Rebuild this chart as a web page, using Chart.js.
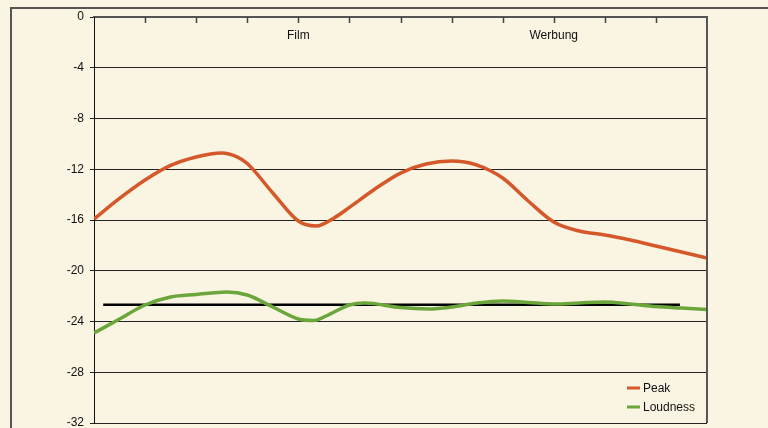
<!DOCTYPE html>
<html>
<head>
<meta charset="utf-8">
<script src="https://cdn.jsdelivr.net/npm/chart.js@4/dist/chart.umd.min.js"></script>
<style>
  html, body { margin: 0; padding: 0; background: #FAF4E3; overflow: hidden; }
  #frame { position: absolute; left: 10px; top: 7px; width: 800px; height: 500px;
           border-left: 2px solid #555; border-top: 2px solid #555; }
  #chart { position: absolute; left: 0; top: 0; }
</style>
</head>
<body>
<div id="frame"></div>
<canvas id="chart" width="768" height="428"></canvas>
<script>
// ---- data (x = position along the top axis, 0..12) ----
const peakX = [0, 0.5, 1, 1.5, 2, 2.5, 2.8, 3, 3.5, 4, 4.35, 4.7, 5, 5.5, 6, 6.5, 7, 7.5, 8, 8.5, 9, 9.5, 10, 10.5, 11, 11.5, 12];
const peakY = [-15.92, -14.30, -12.85, -11.70, -11.03, -10.72, -11.03, -11.55, -13.87, -16.08, -16.47, -15.84, -15.01, -13.56, -12.30, -11.59, -11.35, -11.67, -12.69, -14.50, -16.16, -16.87, -17.18, -17.58, -18.05, -18.52, -19.0];

const loudX = [0, 0.5, 1, 1.5, 2, 2.6, 3, 3.5, 4, 4.3, 4.6, 5, 5.3, 6, 6.55, 7, 7.5, 8, 8.5, 9, 9.5, 10, 10.5, 11, 11.5, 12];
const loudY = [-24.91, -23.80, -22.70, -22.07, -21.87, -21.67, -21.91, -22.86, -23.80, -23.92, -23.45, -22.70, -22.54, -22.90, -23.01, -22.86, -22.54, -22.38, -22.50, -22.62, -22.54, -22.46, -22.62, -22.82, -22.94, -23.05];

const refX = [0.18, 11.47];
const refY = [-22.68, -22.68];

const sectionLabels = ['Film', 'Werbung'];
const sectionPos = [4, 9];

const yTicks = { min: -32, max: 0, step: 4 };

const FONT = '"Liberation Sans", Arial, sans-serif';

function pts(xs, ys) {
  return xs.map((x, i) => ({ x: x, y: ys[i] }));
}

// Tick marks pointing into the plot, section labels, right border, legend
const decor = {
  id: 'decor',
  afterDatasetsDraw(chart) {
    const ctx = chart.ctx;
    const a = chart.chartArea;
    const xs = chart.scales.x;
    ctx.save();
    // right border
    ctx.strokeStyle = '#555';
    ctx.lineWidth = 2;
    ctx.beginPath();
    ctx.moveTo(a.right, a.top);
    ctx.lineTo(a.right, a.bottom);
    ctx.stroke();
    // inward ticks on the top axis
    ctx.lineWidth = 1.5;
    ctx.strokeStyle = '#444';
    for (let i = 1; i < 12; i++) {
      const px = Math.round(xs.getPixelForValue(i)) + 0.5;
      ctx.beginPath();
      ctx.moveTo(px, a.top);
      ctx.lineTo(px, a.top + 6);
      ctx.stroke();
    }
    // section labels
    ctx.fillStyle = '#111';
    ctx.font = '12px ' + FONT;
    ctx.textAlign = 'center';
    ctx.textBaseline = 'middle';
    sectionLabels.forEach((t, i) => {
      ctx.fillText(t, xs.getPixelForValue(sectionPos[i]), a.top + 19);
    });
    // legend
    ctx.textAlign = 'left';
    const items = chart.data.datasets.filter(d => d.label);
    items.forEach((d, i) => {
      const y = a.bottom - 35 + i * 19;
      ctx.strokeStyle = d.borderColor;
      ctx.lineWidth = 3;
      ctx.beginPath();
      ctx.moveTo(a.right - 80, y);
      ctx.lineTo(a.right - 67, y);
      ctx.stroke();
      ctx.fillStyle = '#111';
      ctx.fillText(d.label, a.right - 64, y + 1);
    });
    ctx.restore();
  }
};

new Chart(document.getElementById('chart'), {
  type: 'line',
  data: {
    datasets: [
      {
        label: 'Peak',
        data: pts(peakX, peakY),
        borderColor: '#D4582A',
        borderWidth: 3.5,
        pointRadius: 0,
        cubicInterpolationMode: 'monotone'
      },
      {
        label: 'Loudness',
        data: pts(loudX, loudY),
        borderColor: '#6AA63A',
        borderWidth: 3.5,
        pointRadius: 0,
        cubicInterpolationMode: 'monotone'
      },
      {
        label: '',
        data: pts(refX, refY),
        borderColor: '#000',
        borderWidth: 2.5,
        pointRadius: 0,
        tension: 0
      }
    ]
  },
  options: {
    responsive: false,
    animation: false,
    layout: { padding: { left: 0, top: 0, right: 61, bottom: 5 } },
    plugins: {
      legend: { display: false },
      tooltip: { enabled: false }
    },
    scales: {
      x: {
        type: 'linear',
        position: 'top',
        min: 0,
        max: 12,
        ticks: { display: false, stepSize: 1 },
        grid: { display: false },
        border: { display: true, color: '#555', width: 2 },
        afterFit(s) { s.height = 17; s.paddingLeft = 0; s.paddingRight = 0; }
      },
      y: {
        min: yTicks.min,
        max: yTicks.max,
        ticks: {
          stepSize: yTicks.step,
          padding: 6,
          color: '#111',
          font: { family: FONT, size: 12 }
        },
        grid: { color: '#222', lineWidth: 1, tickLength: 4 },
        border: { display: true, color: '#111', width: 1 },
        afterFit(s) { s.width = 94; s.paddingTop = 0; s.paddingBottom = 0; }
      }
    }
  },
  plugins: [decor]
});
</script>
</body>
</html>
